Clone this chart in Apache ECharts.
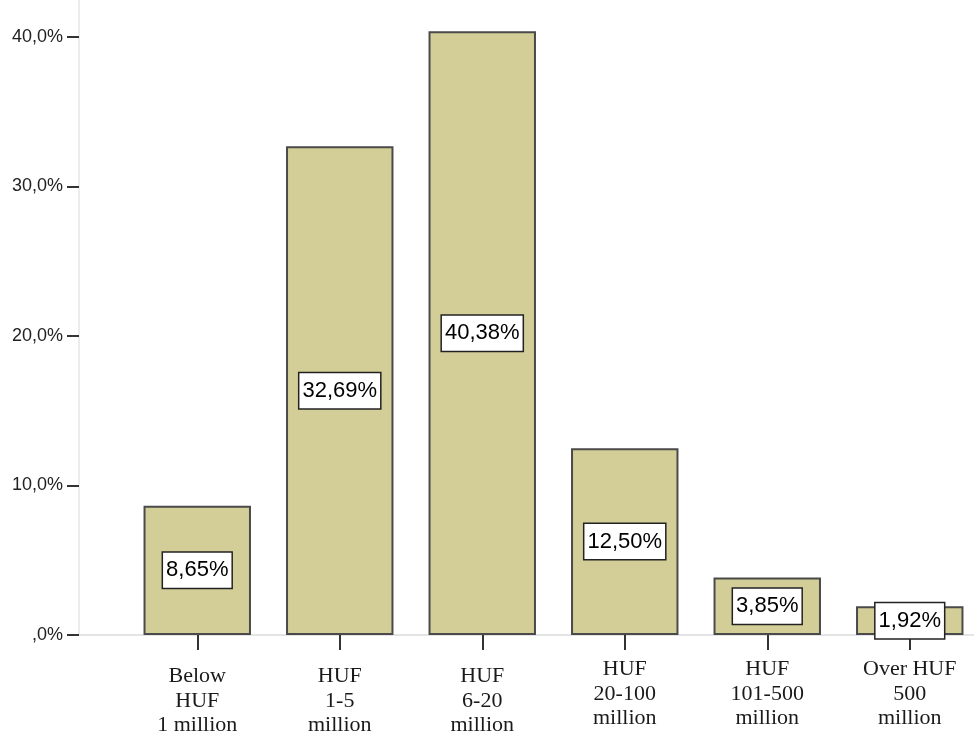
<!DOCTYPE html>
<html>
<head>
<meta charset="utf-8">
<script src="https://cdn.jsdelivr.net/npm/echarts@6/dist/echarts.min.js"></script>
<style>
html,body{margin:0;padding:0;background:#fff;overflow:hidden;width:974px;height:733px;}
#chart{width:990px;height:733px;}
</style>
</head>
<body>
<div id="chart"></div>
<script>
// ---- data ----
var categories = ['Below\nHUF\n1 million', 'HUF\n1-5\nmillion', 'HUF\n6-20\nmillion', 'HUF\n20-100\nmillion', 'HUF\n101-500\nmillion', 'Over HUF\n500\nmillion'];
var lowLabel = [true, true, true, false, false, false];
var percents = [8.65, 32.69, 40.38, 12.50, 3.85, 1.92];
var yTickValues = [0, 10, 20, 30, 40];
var yTickLabels = [',0%', '10,0%', '20,0%', '30,0%', '40,0%'];

function fmtPct(v) { return v.toFixed(2).replace('.', ',') + '%'; }

var chart = echarts.init(document.getElementById('chart'), null, {renderer: 'canvas', width: 990, height: 733});
var catFont = {fontFamily: 'Liberation Serif', fontSize: 22, lineHeight: 24.5, color: '#1a1a1a'};
var option = {
  backgroundColor: '#ffffff',
  animation: false,
  grid: [
    {left: 126, right: 9, top: 37, bottom: 98, containLabel: false, outerBoundsMode: 'none'},
    {left: 79, right: 0, top: 0, bottom: 98, containLabel: false, outerBoundsMode: 'none'}
  ],
  xAxis: [
    {
      type: 'category', gridIndex: 0, data: categories,
      axisLine: {show: false},
      axisTick: {show: true, alignWithLabel: true, length: 15, lineStyle: {color: '#333', width: 2}},
      axisLabel: {
        margin: 22, interval: 0, color: '#1a1a1a',
        fontFamily: 'Liberation Serif', fontSize: 22, lineHeight: 24.5,
        formatter: function (val, idx) {
          var lines = val.split('\n').map(function (l) { return '{n|' + l + '}'; });
          if (lowLabel[idx]) { lines.unshift('{sp| }'); }
          return lines.join('\n');
        },
        rich: {
          sp: {fontSize: 1, lineHeight: 7},
          n: catFont
        }
      },
      splitLine: {show: false}
    },
    {
      type: 'value', gridIndex: 1, min: 0, max: 1,
      axisLine: {show: true, lineStyle: {color: '#e4e4e4', width: 2}},
      axisTick: {show: false}, axisLabel: {show: false}, splitLine: {show: false}
    }
  ],
  yAxis: [
    {
      type: 'value', gridIndex: 0, min: 0, max: 40, interval: 10, offset: 47,
      axisLine: {show: false},
      axisTick: {show: true, length: 12, lineStyle: {color: '#333', width: 2}},
      axisLabel: {
        margin: 16, color: '#222', fontFamily: 'Liberation Sans', fontSize: 18,
        formatter: function (v) { var i = yTickValues.indexOf(v); return i >= 0 ? yTickLabels[i] : ''; }
      },
      splitLine: {show: false}
    },
    {
      type: 'value', gridIndex: 1, min: 0, max: 1,
      axisLine: {show: true, lineStyle: {color: '#ececec', width: 2}},
      axisTick: {show: false}, axisLabel: {show: false}, splitLine: {show: false}
    }
  ],
  series: [
    {
      type: 'bar', xAxisIndex: 0, yAxisIndex: 0, data: percents,
      barWidth: '75.4%', z: 5, clip: false,
      itemStyle: {color: '#D3CE97', borderColor: '#4a4a4a', borderWidth: 2},
      label: {
        show: true, position: 'inside', formatter: function (p) { return fmtPct(p.value); },
        color: '#000', fontFamily: 'Liberation Sans', fontSize: 22, lineHeight: 27,
        backgroundColor: '#fff', borderColor: '#222', borderWidth: 1.5, padding: [4, 3, 4, 3]
      }
    }
  ]
};
chart.setOption(option);
</script>
</body>
</html>
